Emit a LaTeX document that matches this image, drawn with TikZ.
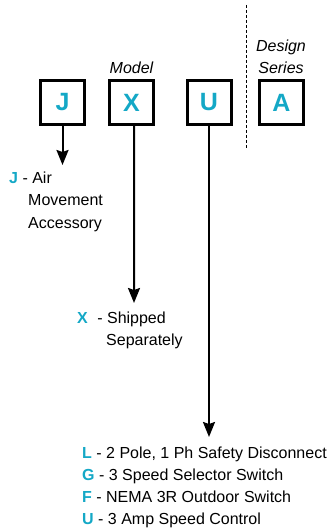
\documentclass[tikz,border=0pt]{standalone}
\usepackage{fontspec}
\setmainfont{Liberation Sans}
\usetikzlibrary{positioning}
\usetikzlibrary{arrows.meta}
\definecolor{codecyan}{RGB}{20,168,198}
\newcommand{\optkey}[1]{\textcolor{codecyan}{\textbf{#1}}}

\begin{document}
\begin{tikzpicture}[x=1bp, y=-1bp,
  codebox/.style={draw, line width=3bp, minimum size=44bp, inner sep=0pt, text=codecyan, font=\fontsize{25bp}{25bp}\selectfont\bfseries},
  grouplabel/.style={anchor=base, inner sep=0pt, font=\fontsize{16bp}{18bp}\selectfont\itshape},
  optdesc/.style={anchor=base west, align=left, inner sep=0pt, font=\fontsize{16bp}{22bp}\selectfont},
  optarrow/.style={line width=2bp, -{Stealth[length=15bp, width=12bp, inset=2bp]}}]
\useasboundingbox (0,0) rectangle (331,531);

\node[codebox] (J) at (62.5, 102.5) {J};
\node[codebox] (X) at (131.5, 102.5) {X};
\node[codebox] (U) at (209, 102.5) {U};
\node[codebox] (A) at (281.5, 102.5) {A};

\node[grouplabel] (model) at (131.5, 74) {Model};
\node[grouplabel] (design) at (281, 52) {Design};
\node[grouplabel] (series) at (281, 74) {Series};

\coordinate (dtop) at (246, 5);
\coordinate (dbot) at (246, 148);
\draw[line width=1bp, dash pattern=on 3bp off 2bp] (dtop) -- (dbot);

\coordinate (jend) at (62.5, 165);
\coordinate (xend) at (134, 303);
\coordinate (uend) at (209, 437);
\draw[optarrow] (J.south) -- (jend);
\draw[optarrow] ([xshift=2.5bp]X.south) -- (xend);
\draw[optarrow] (U.south) -- (uend);

% base anchor sits on the last line
\node[optdesc] (jdesc) at (9, 228) {\optkey{J} - Air\\\hspace*{19bp}Movement\\\hspace*{19bp}Accessory};
\node[optdesc] (xdesc) at (77, 345) {\optkey{X}\hspace{5bp} - Shipped\\\hspace*{29bp}Separately};
\node[optdesc] (udesc) at (82, 524.5) {\optkey{L} - 2 Pole, 1 Ph Safety Disconnect\\\optkey{G} - 3 Speed Selector Switch\\\optkey{F} - NEMA 3R Outdoor Switch\\\optkey{U} - 3 Amp Speed Control};
\end{tikzpicture}
\end{document}
